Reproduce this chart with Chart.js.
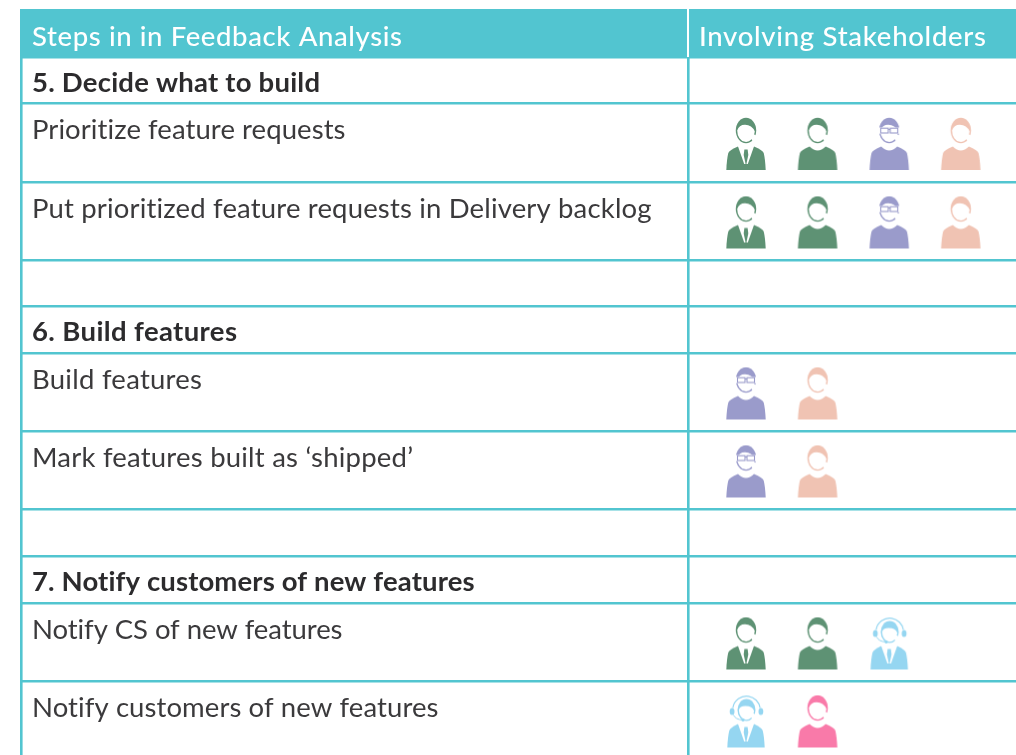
<!DOCTYPE html>
<html><head><meta charset="utf-8">
<style>html,body{margin:0;padding:0;background:#fff;overflow:hidden}canvas{display:block}</style>
<script src="https://cdn.jsdelivr.net/npm/chart.js@4"></script>
</head><body><canvas id="c" width="1016" height="755"></canvas>
<script>
// ---- table content ----
const columnHeaders = ["Steps in in Feedback Analysis", "Involving Stakeholders"];
const rowLabels = ["", "5. Decide what to build", "Prioritize feature requests", "Put prioritized feature requests in Delivery backlog", "",
  "6. Build features", "Build features", "Mark features built as \u2018shipped\u2019", "",
  "7. Notify customers of new features", "Notify CS of new features", "Notify customers of new features"];
const boldRows = [1, 5, 9];
const rowHeights = [48, 46, 79, 78, 46, 47, 78, 78, 47, 47, 78, 78];
// text widths, used to fit the substitute font
const rowLabelWidths = [0, 288, 314, 620, 0, 205, 170, 381, 0, 443, 311, 407];
const headerWidths = [370, 287];
// ---- stakeholder marks: row index + icon slot ----
const suitGreenRows = [2, 3, 10];   const suitGreenSlots = [0, 0, 0];
const plainGreenRows = [2, 3, 10];  const plainGreenSlots = [1, 1, 1];
const purpleRows = [2, 3, 6, 7];    const purpleSlots = [2, 2, 0, 0];
const peachRows = [2, 3, 6, 7];     const peachSlots = [3, 3, 1, 1];
const blueRows = [10, 11];          const blueSlots = [2, 0];
const pinkRows = [11];              const pinkSlots = [1];
// ---- style ----
const TEAL = "#52C5D0", INK = "#2C2B2D", BODY_INK = "#3B3A3C", FONT = "Lato", FONT_SIZE = 27.5;
const GREEN = "#5E9274", PURPLE = "#9A9BCB", PEACH = "#F0C3B3", BLUE = "#95D6F1", PINK = "#F97AA9";
const TABLE_TOP = 9, SLOT0 = 746, SLOTW = 71.6;
const slotOf = px => (px - SLOT0) / SLOTW;

const rowTops = [TABLE_TOP];
rowHeights.forEach(h => rowTops.push(rowTops[rowTops.length - 1] + h));
const rowCentre = r => rowTops[r] + rowHeights[r] / 2 + 1.5;
const points = (rows, slots) => rows.map((r, i) => ({ x: slots[i], y: rowCentre(r) }));

function makeIcon(color, kind) {
  const W = 42, H = 54;
  const cv = document.createElement("canvas"); cv.width = W; cv.height = H;
  const g = cv.getContext("2d");
  g.translate(1, 1);
  g.fillStyle = color; g.strokeStyle = color;
  const cut = fn => { g.globalCompositeOperation = "destination-out"; g.fillStyle = "#000"; g.strokeStyle = "#000"; fn(); g.globalCompositeOperation = "source-over"; g.fillStyle = color; g.strokeStyle = color; };
  const hs = kind === "headset";
  const narrow = hs ? 1 : 0;
  const cx = hs ? 20.5 : 20;
  // head: hair cap, thin jaw line, open lower right
  const cy = hs ? 14.5 : 12.5, rx = hs ? 9 : 10.2, ry = hs ? 11 : 12.7;
  const fringe = cy - (hs ? 4 : 5.8);
  g.beginPath(); g.ellipse(cx, cy, rx, ry, 0, 0, Math.PI * 2); g.fill();
  cut(() => {
    g.beginPath();
    g.ellipse(cx, cy, rx - 1.4, ry - 1.3, 0, 0.1, Math.PI);
    g.quadraticCurveTo(cx - 7, fringe, cx - 1, fringe);
    g.quadraticCurveTo(cx + 6, fringe, cx + rx - 1.4, cy + 1);
    g.closePath(); g.fill();
    // open gap on the lower right of the face
    g.beginPath(); g.moveTo(cx, cy);
    g.arc(cx, cy, rx + 4, 0.45, 1.0);
    g.closePath(); g.fill();
  });
  // body
  g.beginPath();
  g.moveTo(0.3 + narrow, 52);
  g.quadraticCurveTo(0.8 + narrow, 41, 2.3 + narrow, 35);
  g.quadraticCurveTo(3.3 + narrow, 32, 12, 28.5);
  if (kind === "suit" || hs) g.lineTo(28, 28.5);
  else g.quadraticCurveTo(20, 36.5, 28, 28.5);
  g.quadraticCurveTo(36.7 - narrow, 32, 37.7 - narrow, 35);
  g.quadraticCurveTo(39.2 - narrow, 41, 39.7 - narrow, 52);
  g.closePath(); g.fill();
  if (kind === "suit" || hs) {
    cut(() => { g.beginPath(); g.moveTo(11.5, 27); g.lineTo(28.5, 27); g.lineTo(21.8, 46); g.lineTo(18.2, 46); g.closePath(); g.fill(); });
    g.beginPath(); g.moveTo(18.4, 31.5); g.lineTo(21.6, 31.5); g.lineTo(22.3, 37); g.lineTo(20, 48); g.lineTo(17.7, 37); g.closePath(); g.fill();
  }
  if (kind === "glasses") {
    cut(() => { g.fillRect(8, 9.5, 24, 6.2); });
    g.lineWidth = 1.1;
    g.strokeRect(11.5, 10.2, 7.5, 4.8); g.strokeRect(21, 10.2, 7.5, 4.8);
    g.beginPath(); g.moveTo(19, 11.5); g.lineTo(21, 11.5); g.stroke();
  }
  if (hs) {
    g.lineWidth = 1.2;
    g.beginPath(); g.arc(cx, 14.5, 13.8, Math.PI * 1.05, Math.PI * 1.95); g.stroke();
    g.beginPath(); g.ellipse(cx - 14.4, 16, 2.4, 3.6, 0, 0, Math.PI * 2); g.fill();
    g.beginPath(); g.ellipse(cx + 14.4, 16, 2.4, 3.6, 0, 0, Math.PI * 2); g.fill();
    g.lineWidth = 1;
    g.beginPath(); g.moveTo(cx - 13, 19.5); g.quadraticCurveTo(cx - 11, 24, cx - 4, 24.5); g.stroke();
    g.beginPath(); g.arc(cx - 3.5, 24.5, 1.5, 0, Math.PI * 2); g.fill();
  }
  return cv;
}

function iconSet(label, data, color, kind) {
  return { label, data, pointStyle: makeIcon(color, kind), pointRadius: 20, pointHoverRadius: 20, showLine: false, backgroundColor: color, borderColor: color };
}

function fittedText(ctx, text, x, y, width, font, color) {
  ctx.font = font; ctx.letterSpacing = "0px";
  const m = ctx.measureText(text).width;
  ctx.letterSpacing = ((width - m) / Math.max(1, text.length - 1)).toFixed(3) + "px";
  ctx.fillStyle = color; ctx.textAlign = "left"; ctx.textBaseline = "alphabetic";
  ctx.fillText(text, x, y);
  ctx.letterSpacing = "0px";
}

const tablePlugin = {
  id: "tablePlugin",
  beforeDatasetsDraw(chart) {
    const { ctx, scales: { x, y } } = chart;
    ctx.save();
    ctx.fillStyle = TEAL;
    const top = y.getPixelForValue(rowTops[0]), bottom = y.getPixelForValue(rowTops[1]);
    ctx.fillRect(x.left - 1, top, x.right - x.left + 1, bottom - top);
    ctx.fillStyle = "#fff";
    ctx.fillRect(Math.round(x.getPixelForValue(slotOf(688))) - 1, top, 2, bottom - top);
    ctx.restore();
  },
  afterDatasetsDraw(chart) {
    const { ctx, scales: { x, y } } = chart;
    ctx.save();
    const textX = x.getPixelForValue(slotOf(32));
    const headFont = "500 " + FONT_SIZE + "px " + FONT;
    fittedText(ctx, columnHeaders[0], textX, y.getPixelForValue(rowTops[0] + 36.5), headerWidths[0], headFont, "#fff");
    fittedText(ctx, columnHeaders[1], x.getPixelForValue(slotOf(699)), y.getPixelForValue(rowTops[0] + 36.5), headerWidths[1], headFont, "#fff");
    rowLabels.forEach((t, r) => {
      if (!t) return;
      const bold = boldRows.includes(r);
      fittedText(ctx, t, textX, y.getPixelForValue(rowTops[r] + (bold ? 35 : 36)), rowLabelWidths[r], (bold ? "700 " : "400 ") + FONT_SIZE + "px " + FONT, bold ? INK : BODY_INK);
    });
    ctx.restore();
  }
};

new Chart(document.getElementById("c"), {
  type: "scatter",
  data: { datasets: [
    iconSet("Suit green", points(suitGreenRows, suitGreenSlots), GREEN, "suit"),
    iconSet("Plain green", points(plainGreenRows, plainGreenSlots), GREEN, "plain"),
    iconSet("Purple", points(purpleRows, purpleSlots), PURPLE, "glasses"),
    iconSet("Peach", points(peachRows, peachSlots), PEACH, "plain"),
    iconSet("Blue", points(blueRows, blueSlots), BLUE, "headset"),
    iconSet("Pink", points(pinkRows, pinkSlots), PINK, "plain")
  ] },
  options: {
    responsive: false, animation: false, events: [],
    layout: { autoPadding: false, padding: { left: 21, top: TABLE_TOP, right: 0, bottom: 0 } },
    plugins: { legend: { display: false }, tooltip: { enabled: false }, title: { display: false } },
    scales: {
      x: {
        type: "linear", min: slotOf(21), max: slotOf(1016),
        border: { display: false },
        grid: { color: TEAL, lineWidth: 2.6, drawTicks: false },
        ticks: { display: false },
        afterBuildTicks: s => { s.ticks = [{ value: slotOf(21) }, { value: slotOf(688) }]; }
      },
      y: {
        type: "linear", reverse: true, min: TABLE_TOP, max: 755,
        border: { display: false },
        grid: { color: TEAL, lineWidth: 2.6, drawTicks: false },
        ticks: { display: false },
        afterBuildTicks: s => { s.ticks = rowTops.slice(1, 12).map(v => ({ value: v })); }
      }
    }
  },
  plugins: [tablePlugin]
});
</script></body></html>
